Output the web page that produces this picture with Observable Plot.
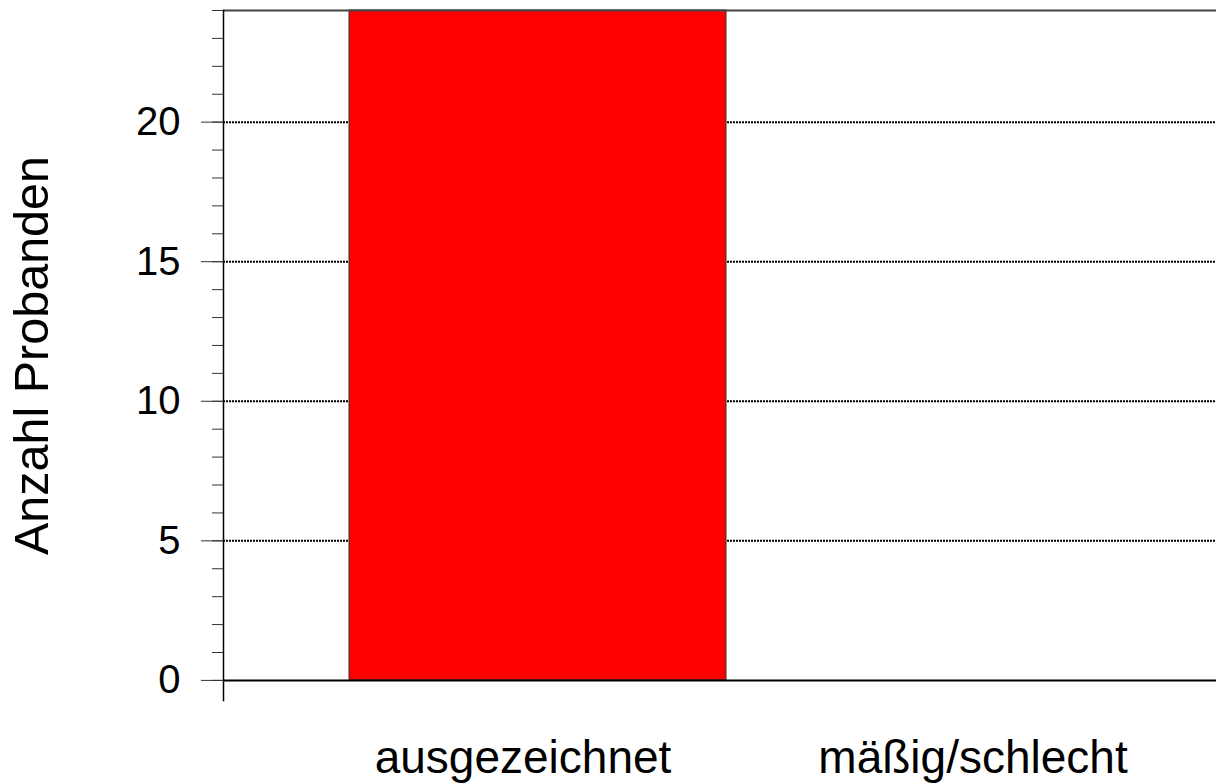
<!DOCTYPE html>
<html>
<head>
<meta charset="utf-8">
<script src="https://cdn.jsdelivr.net/npm/d3@7"></script>
<script src="https://cdn.jsdelivr.net/npm/@observablehq/plot@0.6"></script>
<style>
  html, body { margin: 0; padding: 0; background: #fff; }
  #chart svg { display: block; }
</style>
</head>
<body>
<div id="chart"></div>
<script>
const categories = ["ausgezeichnet", "mäßig/schlecht"];
const counts = [24, 0];
const yMajorTicks = [0, 5, 10, 15, 20];
const yMinorTicks = [0, 1, 2, 3, 4, 5, 6, 7, 8, 9, 10, 11, 12, 13, 14, 15, 16, 17, 18, 19, 20, 21, 22, 23, 24];
const gridValues = [5, 10, 15, 20];
const yLabel = "Anzahl Probanden";
const yMax = 24;
const yMinVisible = -0.72;

const data = categories.map((c, i) => ({category: c, count: counts[i]}));

const chart = Plot.plot({
  width: 1216,
  height: 784,
  marginTop: 10,
  marginBottom: 84,
  marginLeft: 223,
  marginRight: 0,
  style: {fontFamily: "'Liberation Sans', Arial, sans-serif", color: "#000", background: "#fff"},
  x: {domain: categories, paddingInner: 0.162, paddingOuter: 0.184, align: 0.76},
  y: {domain: [yMinVisible, yMax]},
  marks: [
    Plot.ruleY(gridValues, {stroke: "#000", strokeWidth: 2, strokeDasharray: "2,1"}),
    Plot.barY(data, {x: "category", y: "count", fill: "#ff0000", stroke: "#333", strokeWidth: 1}),
    Plot.ruleY([0], {stroke: "#000", strokeWidth: 2}),
    Plot.ruleY([yMax], {stroke: "#444", strokeWidth: 2}),
    Plot.frame({anchor: "left", stroke: "#000", strokeWidth: 1.5}),
    Plot.axisY({ticks: yMinorTicks, tickSize: 11, text: null, label: null, stroke: "#333"}),
    Plot.axisY({ticks: yMajorTicks, tickSize: 22, tickPadding: 21, fontSize: 40, label: null, stroke: "#333"}),
    Plot.axisY({ticks: [], tickSize: 0, label: yLabel, labelArrow: "none", labelAnchor: "center", labelOffset: 210, fontSize: 48.5}),
    Plot.axisX({tickSize: 0, tickPadding: 40, fontSize: 46, dx: -15, label: null})
  ]
});

document.getElementById("chart").appendChild(chart);
</script>
</body>
</html>
